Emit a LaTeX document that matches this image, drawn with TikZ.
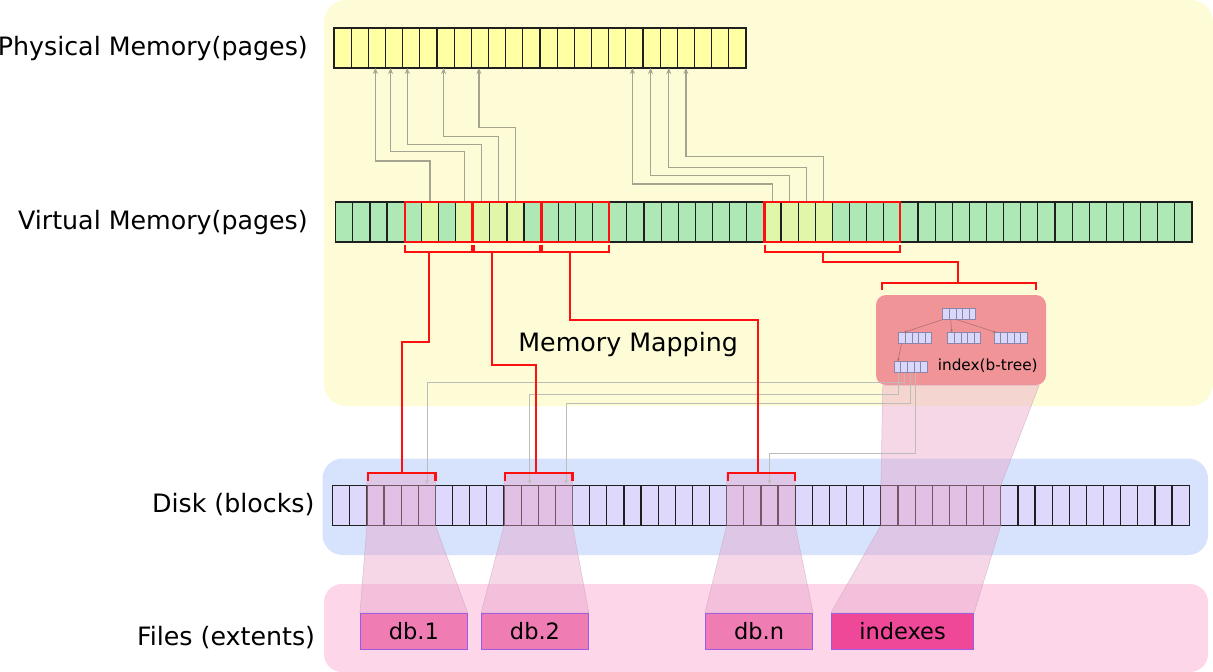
\documentclass[tikz,border=0pt]{standalone}
\usepackage{fontspec}
\setmainfont{DejaVu Sans}
\usetikzlibrary{arrows.meta,calc}
\definecolor{bgyellow}{HTML}{FEFCD6}
\definecolor{bgblue}{HTML}{D7E3FC}
\definecolor{bgpink}{HTML}{FDD7E9}
\definecolor{pyellow}{HTML}{FFFFA4}
\definecolor{vgreen}{HTML}{AEE8B4}
\definecolor{vhl}{HTML}{E0F6A8}
\definecolor{dlav}{HTML}{DDD8FC}
\definecolor{idxpink}{HTML}{F09498}
\definecolor{btfill}{HTML}{D8D8FC}
\definecolor{btbord}{HTML}{8E84A8}
\definecolor{btedge}{HTML}{B07070}
\definecolor{dbpink}{HTML}{F07CB4}
\definecolor{ixpink}{HTML}{F04898}
\definecolor{filebord}{HTML}{9A5CE6}
\definecolor{ovpink}{HTML}{E8A0C8}
\definecolor{ovedge}{HTML}{C8A0B8}
\definecolor{mapgray}{HTML}{A4A490}
\definecolor{leafgray}{HTML}{BCBCB8}
\definecolor{mapred}{HTML}{FF1010}
\begin{document}
\begin{tikzpicture}[x=1pt,y=-1pt,
  cell/.style={rectangle,draw=black!88,line width=1.2pt,minimum height=40pt,inner sep=0pt,outer sep=0pt,anchor=north west},
  pcell/.style={cell,minimum width=17.167pt,fill=pyellow},
  vcell/.style={cell,minimum width=17.126pt},
  dcell/.style={cell,minimum width=17.13pt,fill=dlav},
  redbox/.style={draw=mapred,line width=2.2pt},
  redline/.style={draw=mapred,line width=2.2pt,line join=miter},
  maparrow/.style={draw=mapgray,line width=1.3pt,-{Stealth[length=6pt,width=5pt]}},
  leafarrow/.style={draw=leafgray,line width=0.8pt,-{Stealth[length=4pt,width=3.5pt]}},
  btnode/.style={rectangle,draw=btbord,fill=btfill,line width=0.6pt,minimum width=33pt,minimum height=11pt,inner sep=0pt},
  btdiv/.style={draw=btbord,line width=0.6pt},
  btarrow/.style={draw=btedge,line width=0.6pt,-{Stealth[length=3pt,width=2.5pt]}},
  ovfill/.style={fill=ovpink,fill opacity=0.42,draw=ovedge,draw opacity=0.6,line width=0.5pt},
  filebox/.style={rectangle,draw=filebord,line width=0.8pt,minimum height=36pt,inner sep=0pt,font=\fontsize{22.5}{27}\selectfont},
  lbl/.style={inner sep=0pt,font=\fontsize{25.3}{30}\selectfont},
]
\useasboundingbox (0,0) rectangle (1213,672);
% background bands
\fill[bgyellow,rounded corners=22pt] (324,0) rectangle (1213,406);
\fill[bgblue,rounded corners=20pt] (322.5,458.5) rectangle (1208,555);
\fill[bgpink,rounded corners=18pt] (324,584) rectangle (1208,672);
% physical memory
\foreach \i in {0,...,23} \node[pcell] (p\i) at ({334+17.167*\i},28) {};
% virtual memory
\foreach \i in {0,...,49}{
  \pgfmathtruncatemacro\hl{or(or(\i==5,\i==7),or(and(\i>7,\i<11),and(\i>24,\i<29)))}
  \ifnum\hl=1\relax\def\vf{vhl}\else\def\vf{vgreen}\fi
  \node[vcell,fill=\vf] (v\i) at ({335.7+17.126*\i},202) {};
}
% disk
\foreach \i in {0,...,49} \node[dcell] (d\i) at ({332.7+17.13*\i},485.5) {};
% virtual -> physical
\foreach \v/\h/\p/\s in {5/41/2/-1.5, 7/50.3/3/-3.5, 8/57.7/4/-4, 9/65.7/6/-2, 10/74.3/8/-1, 25/18/17/-2, 26/26.7/18/-1, 27/34.7/19/0, 28/45.7/20/0}
  \draw[maparrow] (v\v.north) -- ++(0,-\h) -| ([xshift=\s]p\p.south);
% index box and b-tree
\node[fill=idxpink,rounded corners=10pt,minimum width=170pt,minimum height=90pt,inner sep=0pt] (idx) at (961,340) {};
\node[btnode] (bt0) at (959.2,313.7) {};
\node[btnode] (bt1) at (915.2,338.2) {};
\node[btnode] (bt2) at (964.2,338.2) {};
\node[btnode] (bt3) at (1010.5,338.2) {};
\node[btnode] (leaf) at (910.7,367.2) {};
\foreach \n in {bt0,bt1,bt2,bt3,leaf}{
  \foreach \k in {1,2,3,4}{
    \draw[btdiv] ($(\n.north west)!\k/5!(\n.north east)$) -- ($(\n.south west)!\k/5!(\n.south east)$);
  }
}
\draw[btarrow] ([xshift=0.6]bt0.south west) -- ([xshift=5.3]bt1.north west);
\draw[btarrow] ([xshift=8.3]bt0.south west) -- ([xshift=4.3]bt2.north west);
\draw[btarrow] ([xshift=14]bt0.south west) -- ([xshift=2.4]bt3.north west);
\draw[btarrow] ([xshift=3]bt1.south west) -- ([xshift=4]leaf.north west);
\node[inner sep=0pt,anchor=base west,font=\fontsize{15.3}{18}\selectfont] (lidx) at (937.6,370.5) {index(b-tree)};
% files
\node[filebox,fill=dbpink,minimum width=107pt] (f1) at (413.8,631.3) {db.1};
\node[filebox,fill=dbpink,minimum width=107pt] (f2) at (535,631.3) {db.2};
\node[filebox,fill=dbpink,minimum width=107.4pt] (fn) at (759,631.3) {db.n};
\node[filebox,fill=ixpink,minimum width=142.4pt] (fi) at (902.5,631.3) {indexes};
% extents overlays
\path[ovfill] ([yshift=12]d2.north west) -- ([yshift=12]d5.north east) -- (d5.south east) -- (f1.north east) -- (f1.north west) -- (d2.south west) -- cycle;
\path[ovfill] ([yshift=12]d10.north west) -- ([yshift=12]d13.north east) -- (d13.south east) -- (f2.north east) -- (f2.north west) -- (d10.south west) -- cycle;
\path[ovfill] ([yshift=12]d23.north west) -- ([yshift=12]d26.north east) -- (d26.south east) -- (fn.north east) -- (fn.north west) -- (d23.south west) -- cycle;
\path[ovfill] ([xshift=7]idx.south west) -- ([xshift=-7]idx.south east) -- (d38.north east) -- (d38.south east) -- (fi.north east) -- (fi.north west) -- (d32.south west) -- (d32.north west) -- cycle;
% index leaf -> disk
\draw[leafarrow] ([xshift=10]leaf.south west) -- ++(0,9.8) -| ([yshift=1.5]d5.north);
\draw[leafarrow] ([xshift=4.4]leaf.south west) -- ++(0,21.8) -| ([yshift=1.5]d11.north);
\draw[leafarrow] ([xshift=16.4]leaf.south west) -- ++(0,30.3) -| ([xshift=2,yshift=1.5]d13.north);
\draw[leafarrow] ([xshift=21.7]leaf.south west) -- ++(0,80.6) -| ([yshift=1.5]d25.north);
% red boxes on virtual memory
\draw[redbox] ([xshift=0.6]v4.north west) rectangle ([xshift=-0.6]v7.south east);
\draw[redbox] ([xshift=0.6]v8.north west) rectangle ([xshift=-0.6]v11.south east);
\draw[redbox] ([xshift=0.6]v12.north west) rectangle ([xshift=-0.6]v15.south east);
\draw[redbox] ([xshift=0.6]v25.north west) rectangle ([xshift=-0.6]v32.south east);
\foreach \a/\b in {4/7,8/11,12/15,25/32}
  \draw[redline] ([xshift=1,yshift=-2.5]v\a.south west) -- ([xshift=1,yshift=-9.7]v\a.south west) -- ([xshift=-1,yshift=-9.7]v\b.south east) -- ([xshift=-1,yshift=-2.5]v\b.south east);
\foreach \a/\b in {2/5,10/13,23/26}
  \draw[redline] ([xshift=1,yshift=5]d\a.north west) -- ([xshift=1,yshift=12.2]d\a.north west) -- ([yshift=12.2]d\b.north east) -- ([yshift=5]d\b.north east);
\draw[redline] ([xshift=6.5,yshift=5]idx.north west) -- ([xshift=6.5,yshift=11.7]idx.north west) -- ([xshift=-10,yshift=11.7]idx.north east) -- ([xshift=-10,yshift=5]idx.north east);
\coordinate (b1) at (429,251.7);
\coordinate (b2) at (492.3,251.7);
\coordinate (b3) at (570,251.7);
\coordinate (b4) at (823,251.7);
\coordinate (e1) at (401.7,473.3);
\coordinate (e2) at (536,473.3);
\coordinate (e3) at (758,473.3);
\coordinate (c4) at (958,283.3);
\draw[redline] (b1) -- ++(0,90) -| (e1);
\draw[redline] (b2) -- ++(0,113) -| (e2);
\draw[redline] (b3) -- ++(0,68.6) -| (e3);
\draw[redline] (b4) -- ++(0,10.3) -| (c4);
% labels
\node[lbl,anchor=base east] (lphys) at (308,55.7) {Physical Memory(pages)};
\node[lbl,anchor=base east] (lvirt) at (308,229.3) {Virtual Memory(pages)};
\node[lbl,anchor=base east] (ldisk) at (314.7,512.3) {Disk (blocks)};
\node[lbl,anchor=base east] (lfile) at (315.3,645) {Files (extents)};
\node[lbl,anchor=base west] (lmap) at (518.2,351.7) {Memory Mapping};
\end{tikzpicture}
\end{document}
